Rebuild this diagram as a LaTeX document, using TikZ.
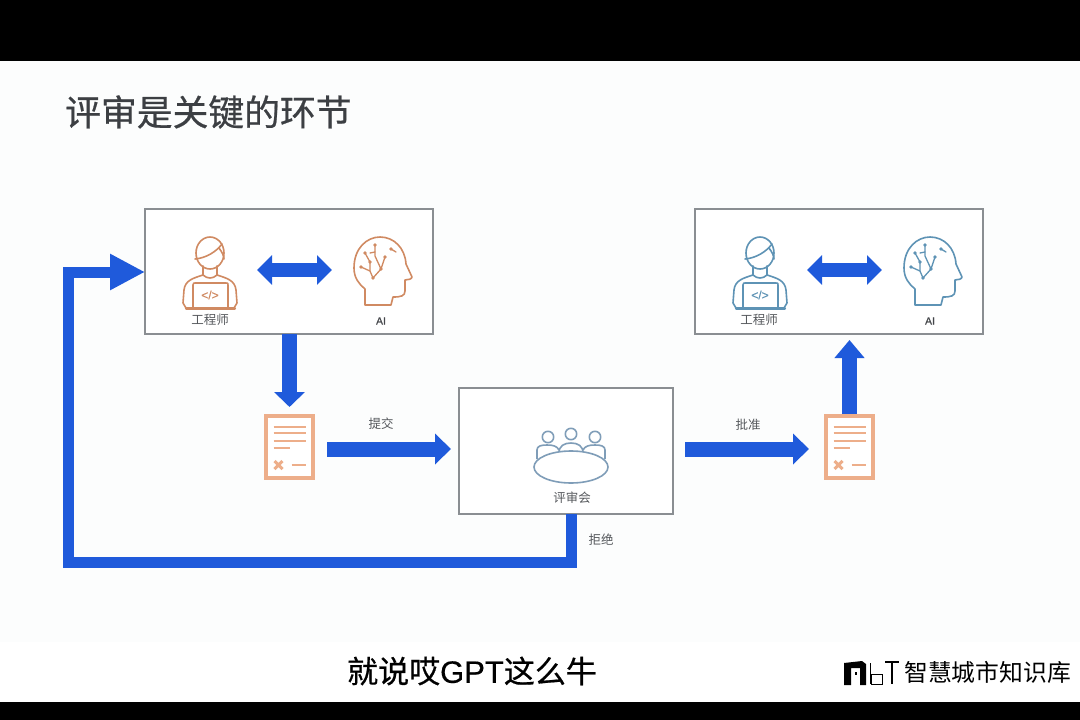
\documentclass[tikz,border=0pt]{standalone}
\usepackage{fontspec}
\setmainfont{Noto Sans CJK SC}
\newfontfamily\latinf{Liberation Sans}
\newfontfamily\medcjk[FakeBold=0.6]{Noto Sans CJK SC}
\newfontfamily\medlatin[FakeBold=0.4]{Liberation Sans}
\usetikzlibrary{arrows.meta,calc}
\definecolor{slideBg}{HTML}{FCFDFD}
\definecolor{arrowBlue}{HTML}{1F5ADB}
\definecolor{iconO}{HTML}{D08A62}
\definecolor{iconB}{HTML}{5E93B5}
\definecolor{iconG}{HTML}{7F9DB8}
\definecolor{docO}{HTML}{EDAE8A}
\definecolor{boxLine}{HTML}{8A8E92}
\definecolor{labelG}{HTML}{55585C}
\definecolor{titleG}{HTML}{3C3F43}
\tikzset{
  x=1pt,y=-1pt,
  frame/.style={draw=boxLine,line width=1.6pt,fill=white,inner sep=0pt,outer sep=0pt},
  hold/.style={inner sep=0pt,outer sep=0pt},
  lbl/.style={text=labelG,inner sep=0pt,font=\fontsize{12.5}{14}\selectfont},
  ailbl/.style={text=labelG!80!black,inner sep=0pt,font=\medlatin\fontsize{10.5}{12}\selectfont},
  bigarrow/.style={draw=arrowBlue,line width=15pt,-{Triangle[length=#1,width=30pt]}},
  dblarrow/.style={draw=arrowBlue,line width=14pt,{Triangle[length=15pt,width=29pt]}-{Triangle[length=15pt,width=29pt]}},
  pics/engineer/.style={code={
    \begin{scope}[draw=#1,line width=1.6pt,line join=round,line cap=round]
      \draw (0,-19) ellipse (14 and 16);
      \draw (-15,-13) .. controls (-4,-14) and (6,-20) .. (12,-28);
      \draw (9,-24) .. controls (12,-20) and (14,-16) .. (14,-13);
      \draw (-7,-6) -- (-7,3) .. controls (-16,6) and (-25,8) .. (-26,18) -- (-27,31) -- (-24,36);
      \draw (7,-6) -- (7,3) .. controls (16,6) and (25,8) .. (26,18) -- (27,31) -- (24,36);
      \draw (-7,3) .. controls (-3,7) and (3,7) .. (7,3);
      \draw (-17,36) -- (-17,13) .. controls (-17,11) and (-16,11) .. (-15,11) -- (16,11) .. controls (18,11) and (18,11) .. (18,13) -- (18,36);
      \draw[line width=2.2pt] (-24,36.5) -- (25,36.5);
    \end{scope}
    \node[text=#1,inner sep=0pt,font=\medlatin\fontsize{12}{14}\selectfont] at (0,23) {</>};
  }},
  pics/brain/.style={code={
    \begin{scope}[draw=#1,fill=#1,line width=1.6pt,line join=round,line cap=round]
      \draw (-18,33) -- (-18,17) .. controls (-24,12) and (-29,6) .. (-29,-4)
        .. controls (-29,-24) and (-16,-35) .. (-3,-35)
        .. controls (11,-35) and (22,-24) .. (23,-8)
        -- (29,5) .. controls (29,7) and (25,8) .. (22,8) -- (22,19)
        .. controls (22,24) and (18,25) .. (10,25) -- (8,33) -- cycle;
      \begin{scope}[line width=1.3pt]
        \draw (-8,-27) -- (-8,-16) -- (-2,-3) -- (-10,6);
        \draw (2,-15) -- (-2,-3);
        \draw (-18,-19) -- (-13,-10) -- (-13,-1) -- (-10,6);
        \draw (-22,-5) -- (-13,-1);
        \draw (-13,-19) -- (-8,-20);
        \draw (8,-23) -- (13,-20);
        \foreach \p in {(-18,-19),(-8,-27),(8,-23),(-13,-10),(-22,-5),(-2,-3),(-10,6),(2,-15)}
          \fill \p circle (1.9);
      \end{scope}
    \end{scope}
  }},
  pics/docicon/.style={code={
    \begin{scope}[draw=docO,line cap=butt]
      \draw[line width=4.5pt,fill=white] (-23.5,-31) rectangle (23.5,31);
      \draw[line width=2.6pt] (-16,-20) -- (16,-20) (-16,-14) -- (16,-14) (-16,-6) -- (16,-6) (-16,1) -- (0,1);
      \draw[line width=3pt] (-15,14) -- (-7,22) (-15,22) -- (-7,14);
      \draw[line width=2.6pt] (2,18) -- (16,18);
    \end{scope}
  }},
  pics/meeting/.style={code={
    \begin{scope}[draw=iconG,line width=1.6pt,line join=round]
      \draw (-23,-30) circle (5.7);
      \draw (0,-33) circle (5.7);
      \draw (24,-30) circle (5.7);
      \draw (-34,-8) -- (-34,-17) .. controls (-34,-21) and (-30,-22) .. (-24,-22) .. controls (-18,-22) and (-14,-21) .. (-12,-17);
      \draw (-12,-14) .. controls (-12,-21) and (-7,-24) .. (0,-24) .. controls (7,-24) and (12,-21) .. (12,-14);
      \draw (34,-8) -- (34,-17) .. controls (34,-21) and (30,-22) .. (24,-22) .. controls (18,-22) and (14,-21) .. (12,-17);
      \draw[fill=white] (0,0) ellipse (37 and 16);
    \end{scope}
  }},
}
\begin{document}
\begin{tikzpicture}
\useasboundingbox (0,0) rectangle (1080,720);
% backdrop
\fill[black] (0,0) rectangle (1080,720);
\fill[white] (0,61) rectangle (1080,702);
\fill[slideBg] (0,61) rectangle (1080,642);
% title and caption
\node[anchor=west,inner sep=0pt,text=titleG,font=\medcjk\fontsize{35.8}{38}\selectfont] (title) at (65,112) {评审是关键的环节};
\node[inner sep=0pt,text=black,font=\fontsize{31}{34}\selectfont] (caption) at (472,671) {\medcjk 就说哎\medlatin GPT\medcjk 这么牛};
% boxes
\node[frame,minimum width=288pt,minimum height=125pt] (boxA) at (289,271.5) {};
\node[frame,minimum width=288pt,minimum height=125pt] (boxB) at (839,271.5) {};
\node[frame,minimum width=214pt,minimum height=126pt] (boxC) at (566,451) {};
% icon holders
\node[hold,minimum width=56pt,minimum height=72pt] (engA) at (210,270) {};
\node[hold,minimum width=58pt,minimum height=70pt] (aiA) at (383,270) {};
\node[hold,minimum width=56pt,minimum height=72pt] (engB) at (760,270) {};
\node[hold,minimum width=58pt,minimum height=70pt] (aiB) at (933,270) {};
\node[hold,minimum width=51pt,minimum height=66pt] (docA) at (289.5,449) {};
\node[hold,minimum width=51pt,minimum height=66pt] (docB) at (849.5,449) {};
\node[hold,minimum width=74pt,minimum height=32pt] (meet) at (571,467) {};
\coordinate (rejCorner) at (68,562);
\coordinate (rejEntry) at (145,272);
% icons
\pic at (210,272) {engineer=iconO};
\pic at (383,272) {brain=iconO};
\pic at (760,272) {engineer=iconB};
\pic at (933,272) {brain=iconB};
\pic at (289.5,447) {docicon};
\pic at (849.5,447) {docicon};
\pic at (meet) {meeting};
% labels
\node[lbl] (lEngA) at (210,320) {工程师};
\node[ailbl] (lAiA) at (381,321) {AI};
\node[lbl] (lEngB) at (759,320) {工程师};
\node[ailbl] (lAiB) at (930,321) {AI};
\node[lbl] (lSubmit) at (381,424) {提交};
\node[lbl] (lApprove) at (748,425) {批准};
\node[lbl] (lBoard) at (572,498) {评审会};
\node[lbl] (lReject) at (601,540) {拒绝};
% connectors
\draw[dblarrow,shorten <=19pt,shorten >=22pt] (engA.east) -- (aiA.west);
\draw[dblarrow,shorten <=19pt,shorten >=22pt] (engB.east) -- (aiB.west);
\draw[bigarrow=15pt,shorten >=9pt] (docA.north |- boxA.south) -- (docA.north);
\draw[bigarrow=16pt,shorten <=12pt,shorten >=8pt] (docA.east) -- (boxC.west |- docA.east);
\draw[bigarrow=16pt,shorten <=12pt,shorten >=15pt] (boxC.east |- docB.west) -- (docB.west);
\draw[draw=arrowBlue,line width=15pt,-{Triangle[length=18pt,width=29pt]},shorten <=2pt,shorten >=6pt] (docB.north) -- (docB.north |- boxB.south);
\draw[draw=arrowBlue,line width=11pt,miter limit=10,-{Triangle[length=35pt,width=34pt]}]
  (meet |- boxC.south) -- (meet |- rejCorner) -- (rejCorner) -- (rejCorner |- rejEntry) -- (rejEntry);
% watermark logo
\fill[black] (844,663) -- (862,661) -- (866,664) -- (866,685) -- (860,685) -- (860,668) -- (851,668) -- (851,685) -- (844,685) -- cycle;
\fill[white] (854,670) rectangle (858,677);
\fill[black] (855,672) rectangle (857,675);
\draw[black,line width=1pt] (870,663) -- (870,684) (871,674) rectangle (882,684);
\draw[black,line width=1.2pt] (885,662) -- (899,662) (892,662) -- (892,684);
\node[anchor=west,inner sep=0pt,text=black,font=\fontsize{23.8}{26}\selectfont] (mark) at (904,672.5) {智慧城市知识库};
\end{tikzpicture}
\end{document}
